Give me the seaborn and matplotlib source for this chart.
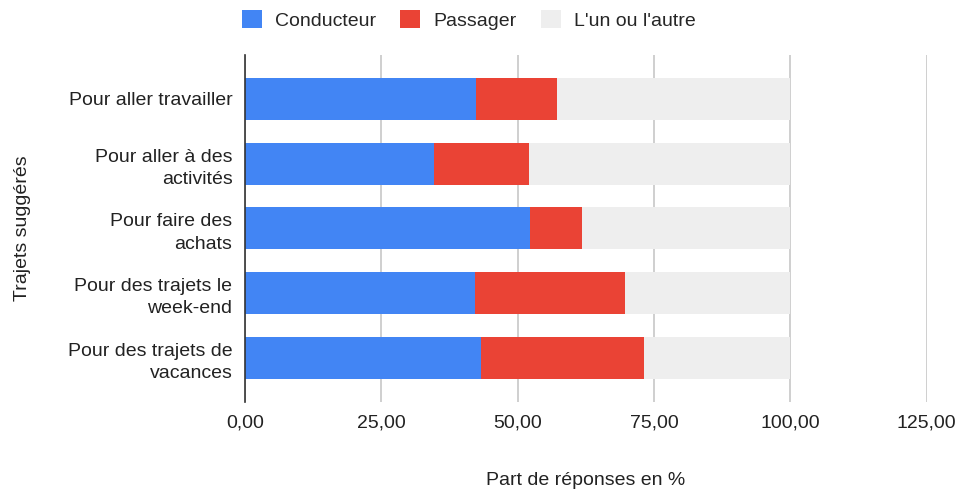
import numpy as np
import pandas as pd
import matplotlib.pyplot as plt
import seaborn as sns
from matplotlib.patches import Patch
from matplotlib.ticker import FuncFormatter

sns.set_style('white')
plt.rcParams['font.family'] = ['Liberation Sans', 'DejaVu Sans']

# données
trajets = ["Pour aller travailler", "Pour aller à des\nactivités", "Pour faire des\nachats",
           "Pour des trajets le\nweek-end", "Pour des trajets de\nvacances"]
conducteur = [42.4, 34.6, 52.2, 42.1, 43.3]
passager = [14.9, 17.4, 9.6, 27.5, 29.9]
un_ou_autre = [42.7, 48.0, 38.2, 30.4, 26.8]
series = ["Conducteur", "Passager", "L'un ou l'autre"]
couleurs = ["#4285F4", "#EA4335", "#EEEEEE"]

df = pd.DataFrame({'trajet': trajets, 'c': conducteur, 'p': passager, 'a': un_ou_autre})
df['cp'] = df['c'] + df['p']
df['total'] = df['cp'] + df['a']

fs = 14
fig = plt.figure(figsize=(9.6, 4.91), dpi=100)
ax = fig.add_axes([0.2552, 0.1819, 0.7101, 0.7061])

# barres empilées : on superpose les cumuls
sns.barplot(data=df, x='total', y='trajet', color=couleurs[2], width=0.65, ax=ax, saturation=1, edgecolor='none')
sns.barplot(data=df, x='cp', y='trajet', color=couleurs[1], width=0.65, ax=ax, saturation=1, edgecolor='none')
sns.barplot(data=df, x='c', y='trajet', color=couleurs[0], width=0.65, ax=ax, saturation=1, edgecolor='none')

ax.set_xlim(0, 125)
ax.set_ylim(4.68, -0.68)
ax.set_xticks([0, 25, 50, 75, 100, 125])
ax.xaxis.set_major_formatter(FuncFormatter(lambda v, p: f"{v:.2f}".replace('.', ',')))
ax.set_yticks(range(len(trajets)), trajets, ha='right', multialignment='right', linespacing=1.4)
ax.grid(axis='x', color='#CCCCCC', linewidth=1.3)
ax.set_axisbelow(True)
for s in ['top', 'right', 'bottom']:
    ax.spines[s].set_visible(False)
ax.spines['left'].set_color('#333333')
ax.spines['left'].set_linewidth(1.2)
ax.tick_params(axis='both', length=0, labelsize=fs, colors='#222222')
ax.tick_params(axis='x', pad=9)
ax.tick_params(axis='y', pad=9)

ax.set_xlabel("Part de réponses en %", fontsize=fs, color='#222222', va='center')
ax.set_ylabel("Trajets suggérés", fontsize=fs, color='#222222', va='center', ha='center')
ax.xaxis.set_label_coords(0.5, -0.226)
ax.yaxis.set_label_coords(-0.327, 0.5)

handles = [Patch(facecolor=c, edgecolor='none') for c in couleurs]
fig.legend(handles, series, loc='center left', bbox_to_anchor=(0.252, 0.959), ncol=3, frameon=False,
           fontsize=fs, handlelength=1.03, handleheight=1.03, handletextpad=0.67,
           columnspacing=1.25, borderpad=0, borderaxespad=0)

fig.savefig('out.png', dpi=100)
